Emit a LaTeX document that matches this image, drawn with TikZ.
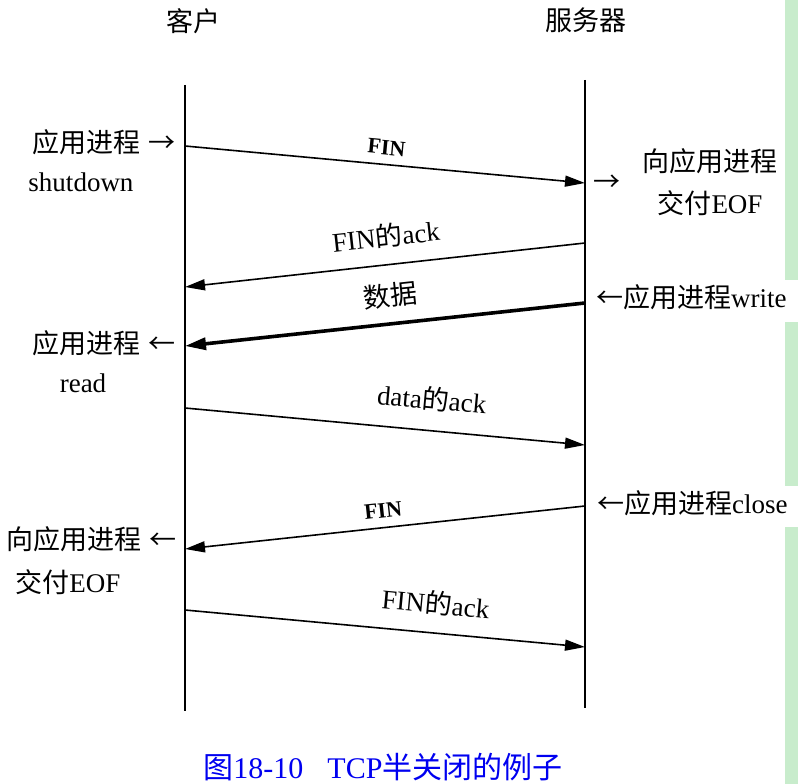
\documentclass[tikz,border=0pt]{standalone}
\usepackage{fontspec}
\setmainfont{Liberation Serif}
\newfontfamily\cjk{Noto Sans CJK SC}
\usepackage{xcolor}
\usepackage{tikz}
\usetikzlibrary{positioning,arrows.meta}
\definecolor{stripgreen}{RGB}{200,236,204}
\definecolor{capblue}{RGB}{0,0,240}

\begin{document}
\begin{tikzpicture}[
  x=1pt, y=-1pt,
  every node/.style={inner sep=0pt, font=\rmfamily\fontsize{27}{31}\selectfont},
  lifeline/.style={line width=1.8pt},
  msg/.style={line width=1.6pt, -{Triangle[length=20pt,width=11pt]}},
  bigmsg/.style={line width=3.6pt, -{Triangle[length=21pt,width=12pt]}},
  lbl/.style={sloped, above=#1},
  lbl/.default=16pt,
  finlbl/.style={sloped, above=#1, font=\rmfamily\fontsize{22}{26}\selectfont\bfseries},
  finlbl/.default=9pt
]
\useasboundingbox (0,0) rectangle (798,784);
\fill[stripgreen] (785,0) rectangle (798,280);
\fill[stripgreen] (785,322) rectangle (798,486);
\fill[stripgreen] (785,527) rectangle (798,784);

\node (client) at (193,21) {\cjk 客户};
\node (server) at (586,20) {\cjk 服务器};

\coordinate (ctop) at (185,85);
\coordinate (cbot) at (185,711);
\coordinate (stop) at (585,80);
\coordinate (sbot) at (585,708);
\draw[lifeline] (ctop) -- (cbot);
\draw[lifeline] (stop) -- (sbot);

\coordinate (c1) at (185,146);
\coordinate (s1) at (585,183);
\coordinate (s2) at (585,243);
\coordinate (c2) at (185,287);
\coordinate (s3) at (585,303);
\coordinate (c3) at (185,346);
\coordinate (c4) at (185,408);
\coordinate (s4) at (585,445);
\coordinate (s5) at (585,506);
\coordinate (c5) at (185,549);
\coordinate (c6) at (185,610);
\coordinate (s6) at (585,647);

\draw[msg] (c1) -- node[finlbl, pos=.5] {FIN} (s1);
\draw[msg] (s2) -- node[lbl, pos=.49] {FIN{\cjk 的}ack} (c2);
\draw[bigmsg] (s3) -- node[lbl=14pt, pos=.48] {\cjk 数据} (c3);
\draw[msg] (c4) -- node[lbl=19pt, pos=.61] {data{\cjk 的}ack} (s4);
\draw[msg] (s5) -- node[finlbl, pos=.5] {FIN} (c5);
\draw[msg] (c6) -- node[lbl=17pt, pos=.62] {FIN{\cjk 的}ack} (s6);

\node[anchor=east] (shutcjk) at (176,142) {\cjk 应用进程\hspace{0.3em}→};
\node (shutdown) at (81,182) {shutdown};
\node (eofarr) at (607,183) {\cjk →};
\node (eofcjk) at (710,161) {\cjk 向应用进程};
\node (eofs) at (710,203) {{\cjk 交付}EOF};
\node[anchor=west] (write) at (596,297) {{\cjk ←应用进程}write};
\node[anchor=east] (readcjk) at (176,343) {\cjk 应用进程\hspace{0.3em}←};
\node (read) at (83,383) {read};
\node[anchor=west] (close) at (597,503) {{\cjk ←应用进程}close};
\node[anchor=east] (eofcjkc) at (177,539) {\cjk 向应用进程\hspace{0.3em}←};
\node (eofc) at (68,582) {{\cjk 交付}EOF};

\node[text=capblue, font=\rmfamily\fontsize{30}{34}\selectfont] (caption) at (383,767)
  {{\cjk 图}18-10\hspace{0.8em}TCP{\cjk 半关闭的例子}};
\end{tikzpicture}
\end{document}
